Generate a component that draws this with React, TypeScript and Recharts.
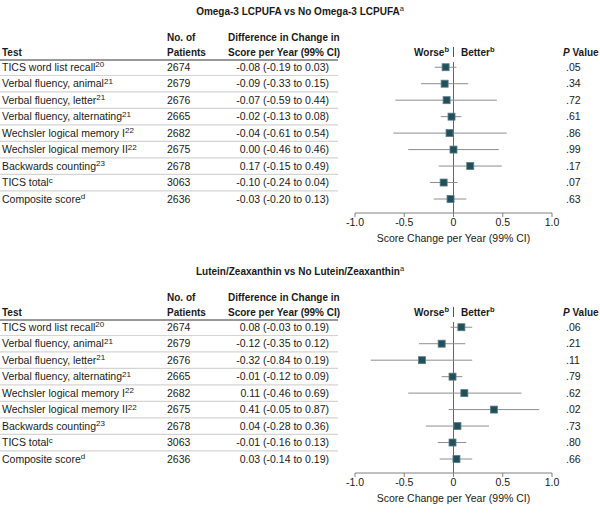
import React from 'react';
import { ScatterChart, Scatter, XAxis, YAxis, ErrorBar, ReferenceLine } from 'recharts';

const tests = [
  'TICS word list recall',
  'Verbal fluency, animal',
  'Verbal fluency, letter',
  'Verbal fluency, alternating',
  'Wechsler logical memory I',
  'Wechsler logical memory II',
  'Backwards counting',
  'TICS total',
  'Composite score',
];
const testRefs = ['20', '21', '21', '21', '22', '22', '23', 'c', 'd'];
const patients = [2674, 2679, 2676, 2665, 2682, 2675, 2678, 3063, 2636];

const omegaEst = [-0.08, -0.09, -0.07, -0.02, -0.04, 0.0, 0.17, -0.1, -0.03];
const omegaLo = [-0.19, -0.33, -0.59, -0.13, -0.61, -0.46, -0.15, -0.24, -0.2];
const omegaHi = [0.03, 0.15, 0.44, 0.08, 0.54, 0.46, 0.49, 0.04, 0.13];
const omegaP = ['.05', '.34', '.72', '.61', '.86', '.99', '.17', '.07', '.63'];

const luteinEst = [0.08, -0.12, -0.32, -0.01, 0.11, 0.41, 0.04, -0.01, 0.03];
const luteinLo = [-0.03, -0.35, -0.84, -0.12, -0.46, -0.05, -0.28, -0.16, -0.14];
const luteinHi = [0.19, 0.12, 0.19, 0.09, 0.69, 0.87, 0.36, 0.13, 0.19];
const luteinP = ['.06', '.21', '.11', '.79', '.62', '.02', '.73', '.80', '.66'];

const xTicks = [-1, -0.5, 0, 0.5, 1];
const xTickLabels = ['-1.0', '-0.5', '0', '0.5', '1.0'];
const rowIdx = tests.map((_, i) => i);

const FONT = "'Liberation Sans', Arial, sans-serif";
const TEXT = '#1a1a1a';
const SQUARE = '#21505c';
const ROW_HALF = 8.25;

const fmt = (v: number) => v.toFixed(2);

const Square = (props: any) => {
  const { cx, cy } = props;
  if (cx == null || cy == null) return null;
  return (
    <rect x={cx - 3.5} y={cy - 3.5} width={7} height={7} fill={SQUARE} stroke="#5b7d86" strokeWidth={0.8} />
  );
};

function makeTick(est: number[], lo: number[], hi: number[], pv: string[]) {
  return (props: any) => {
    const { y, payload } = props;
    const i = payload.value as number;
    const diff = `${fmt(est[i])} (${fmt(lo[i])} to ${fmt(hi[i])})`;
    return (
      <g fontFamily={FONT} fontSize={10.5} fill={TEXT}>
        {i < tests.length - 1 && (
          <line x1={0} x2={338} y1={y + ROW_HALF} y2={y + ROW_HALF} stroke="#d4d4d4" strokeWidth={1.2} />
        )}
        <text x={2} y={y} dy="0.36em">
          {tests[i]}
          <tspan fontSize={8} dy="-0.45em">{testRefs[i]}</tspan>
        </text>
        <text x={167} y={y} dy="0.36em">{patients[i]}</text>
        <text x={329} y={y} dy="0.36em" textAnchor="end">{diff}</text>
        <text x={566} y={y} dy="0.36em">{pv[i]}</text>
      </g>
    );
  };
}

function Panel({ title, est, lo, hi, pv }: { title: string; est: number[]; lo: number[]; hi: number[]; pv: string[] }) {
  const data = tests.map((_, i) => ({ row: i, est: est[i], err: [est[i] - lo[i], hi[i] - est[i]] }));
  const Tick = makeTick(est, lo, hi, pv);
  return (
    <div style={{ position: 'relative', width: 600, height: 260 }}>
      <ScatterChart width={600} height={260} margin={{ top: 59, right: 48, bottom: 15, left: 0 }}>
        <XAxis
          type="number"
          dataKey="est"
          domain={[-1, 1]}
          ticks={xTicks}
          allowDataOverflow
          tickFormatter={(v: number) => xTickLabels[xTicks.indexOf(v)]}
          stroke="#808080"
          tickSize={4}
          tickMargin={2}
          height={32}
          tick={{ fill: TEXT, fontSize: 10.5, fontFamily: FONT }}
          label={{ value: 'Score Change per Year (99% CI)', position: 'insideBottom', offset: 3.5, fill: TEXT, fontSize: 10.5, fontFamily: FONT }}
        />
        <YAxis
          type="number"
          dataKey="row"
          domain={[-0.5, 8.85]}
          reversed
          allowDataOverflow
          ticks={rowIdx}
          interval={0}
          width={355}
          axisLine={false}
          tickLine={false}
          tick={<Tick />}
        />
        <ReferenceLine
          segment={[{ x: 0, y: -1.23 }, { x: 0, y: -0.62 }]}
          ifOverflow="visible"
          stroke="#555"
          strokeWidth={1}
        />
        <ReferenceLine
          segment={[{ x: 0, y: -0.32 }, { x: 0, y: 8.85 }]}
          ifOverflow="visible"
          stroke="#666"
          strokeWidth={1}
        />
        <Scatter data={data} dataKey="est" shape={<Square />} isAnimationActive={false}>
          <ErrorBar dataKey="err" direction="x" width={0} stroke="#8e8e8e" strokeWidth={1} />
        </Scatter>
      </ScatterChart>
      <svg
        width={600}
        height={260}
        style={{ position: 'absolute', left: 0, top: 0, pointerEvents: 'none' }}
        fontFamily={FONT}
        fill={TEXT}
      >
        <text x={300} y={11} dy="0.36em" textAnchor="middle" fontWeight="bold" fontSize={10}>
          {title}
          <tspan fontSize={7.5} dy="-0.45em" fontWeight="normal">a</tspan>
        </text>
        <g fontWeight="bold" fontSize={10}>
          <text x={2} y={52} dy="0.36em">Test</text>
          <text x={167} y={37} dy="0.36em">No. of</text>
          <text x={167} y={52} dy="0.36em">Patients</text>
          <text x={228} y={37} dy="0.36em">Difference in Change in</text>
          <text x={228} y={52} dy="0.36em">Score per Year (99% CI)</text>
          <text x={449} y={52} dy="0.36em" textAnchor="end">
            Worse<tspan fontSize={7.5} dy="-0.45em">b</tspan>
          </text>
          <text x={461} y={52} dy="0.36em">
            Better<tspan fontSize={7.5} dy="-0.45em">b</tspan>
          </text>
          <text x={563} y={52} dy="0.36em">
            <tspan fontStyle="italic">P</tspan> Value
          </text>
        </g>
        <line x1={0} x2={338} y1={60} y2={60} stroke="#333" strokeWidth={1} />
      </svg>
    </div>
  );
}

export default function App() {
  return (
    <div style={{ position: 'absolute', left: 0, top: 0, width: 600, height: 524, background: '#fff' }}>
      <Panel title="Omega-3 LCPUFA vs No Omega-3 LCPUFA" est={omegaEst} lo={omegaLo} hi={omegaHi} pv={omegaP} />
      <Panel title="Lutein/Zeaxanthin vs No Lutein/Zeaxanthin" est={luteinEst} lo={luteinLo} hi={luteinHi} pv={luteinP} />
    </div>
  );
}
